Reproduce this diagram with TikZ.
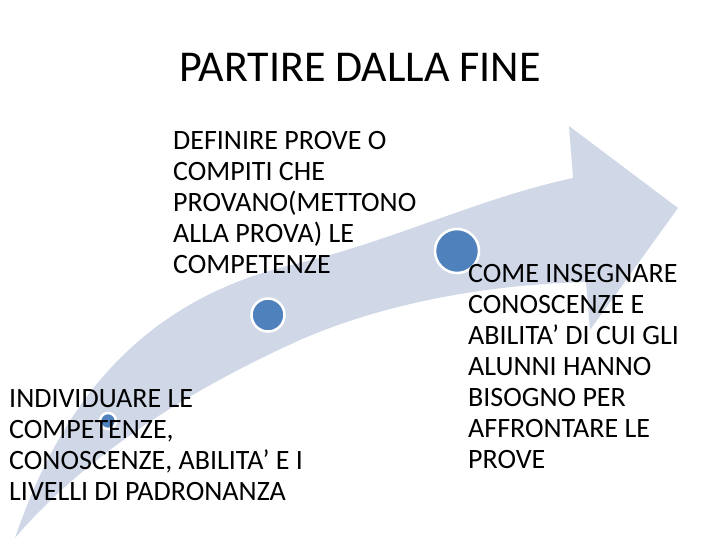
\documentclass[tikz,border=0pt]{standalone}
\usepackage{fontspec}
\setmainfont{Carlito}
\definecolor{arrowfill}{RGB}{208,216,232}
\definecolor{dotblue}{RGB}{79,129,189}
\begin{document}
\begin{tikzpicture}[x=1pt,y=-1pt,
  dot/.style={circle,fill=dotblue,draw=white,line width=2.5pt,inner sep=0pt,minimum size=#1},
  body/.style={anchor=north west,inner sep=0pt,align=left,font=\fontsize{28}{31}\selectfont}]
\useasboundingbox (0,0) rectangle (720,540);
% curved arrow
\fill[arrowfill] (15,538) .. controls (55,420) and (130,300) .. (300,263)
  .. controls (400,238) and (480,198) .. (573,178)
  -- (569,126) -- (678,208) -- (590,330) -- (586,282)
  .. controls (480,285) and (380,305) .. (300,340)
  .. controls (200,385) and (90,450) .. (15,538) -- cycle;
% dots
\node[dot=16pt] (d1) at (108,421) {};
\node[dot=33pt] (d2) at (268,315) {};
\node[dot=44pt] (d3) at (457,251) {};
% title
\node[anchor=base,inner sep=0pt,font=\fontsize{44}{48}\selectfont] (title) at (360,82) {PARTIRE DALLA FINE};
% texts
\node[body] (t1) at (173,131) {DEFINIRE PROVE O\\COMPITI CHE\\PROVANO(METTONO\\ALLA PROVA) LE\\COMPETENZE};
\node[body] (t2) at (9,389) {INDIVIDUARE LE\\COMPETENZE,\\CONOSCENZE, ABILITA’ E I\\LIVELLI DI PADRONANZA};
\node[body] (t3) at (468,264) {COME INSEGNARE\\CONOSCENZE E\\ABILITA’ DI CUI GLI\\ALUNNI HANNO\\BISOGNO PER\\AFFRONTARE LE\\PROVE};
\end{tikzpicture}
\end{document}
